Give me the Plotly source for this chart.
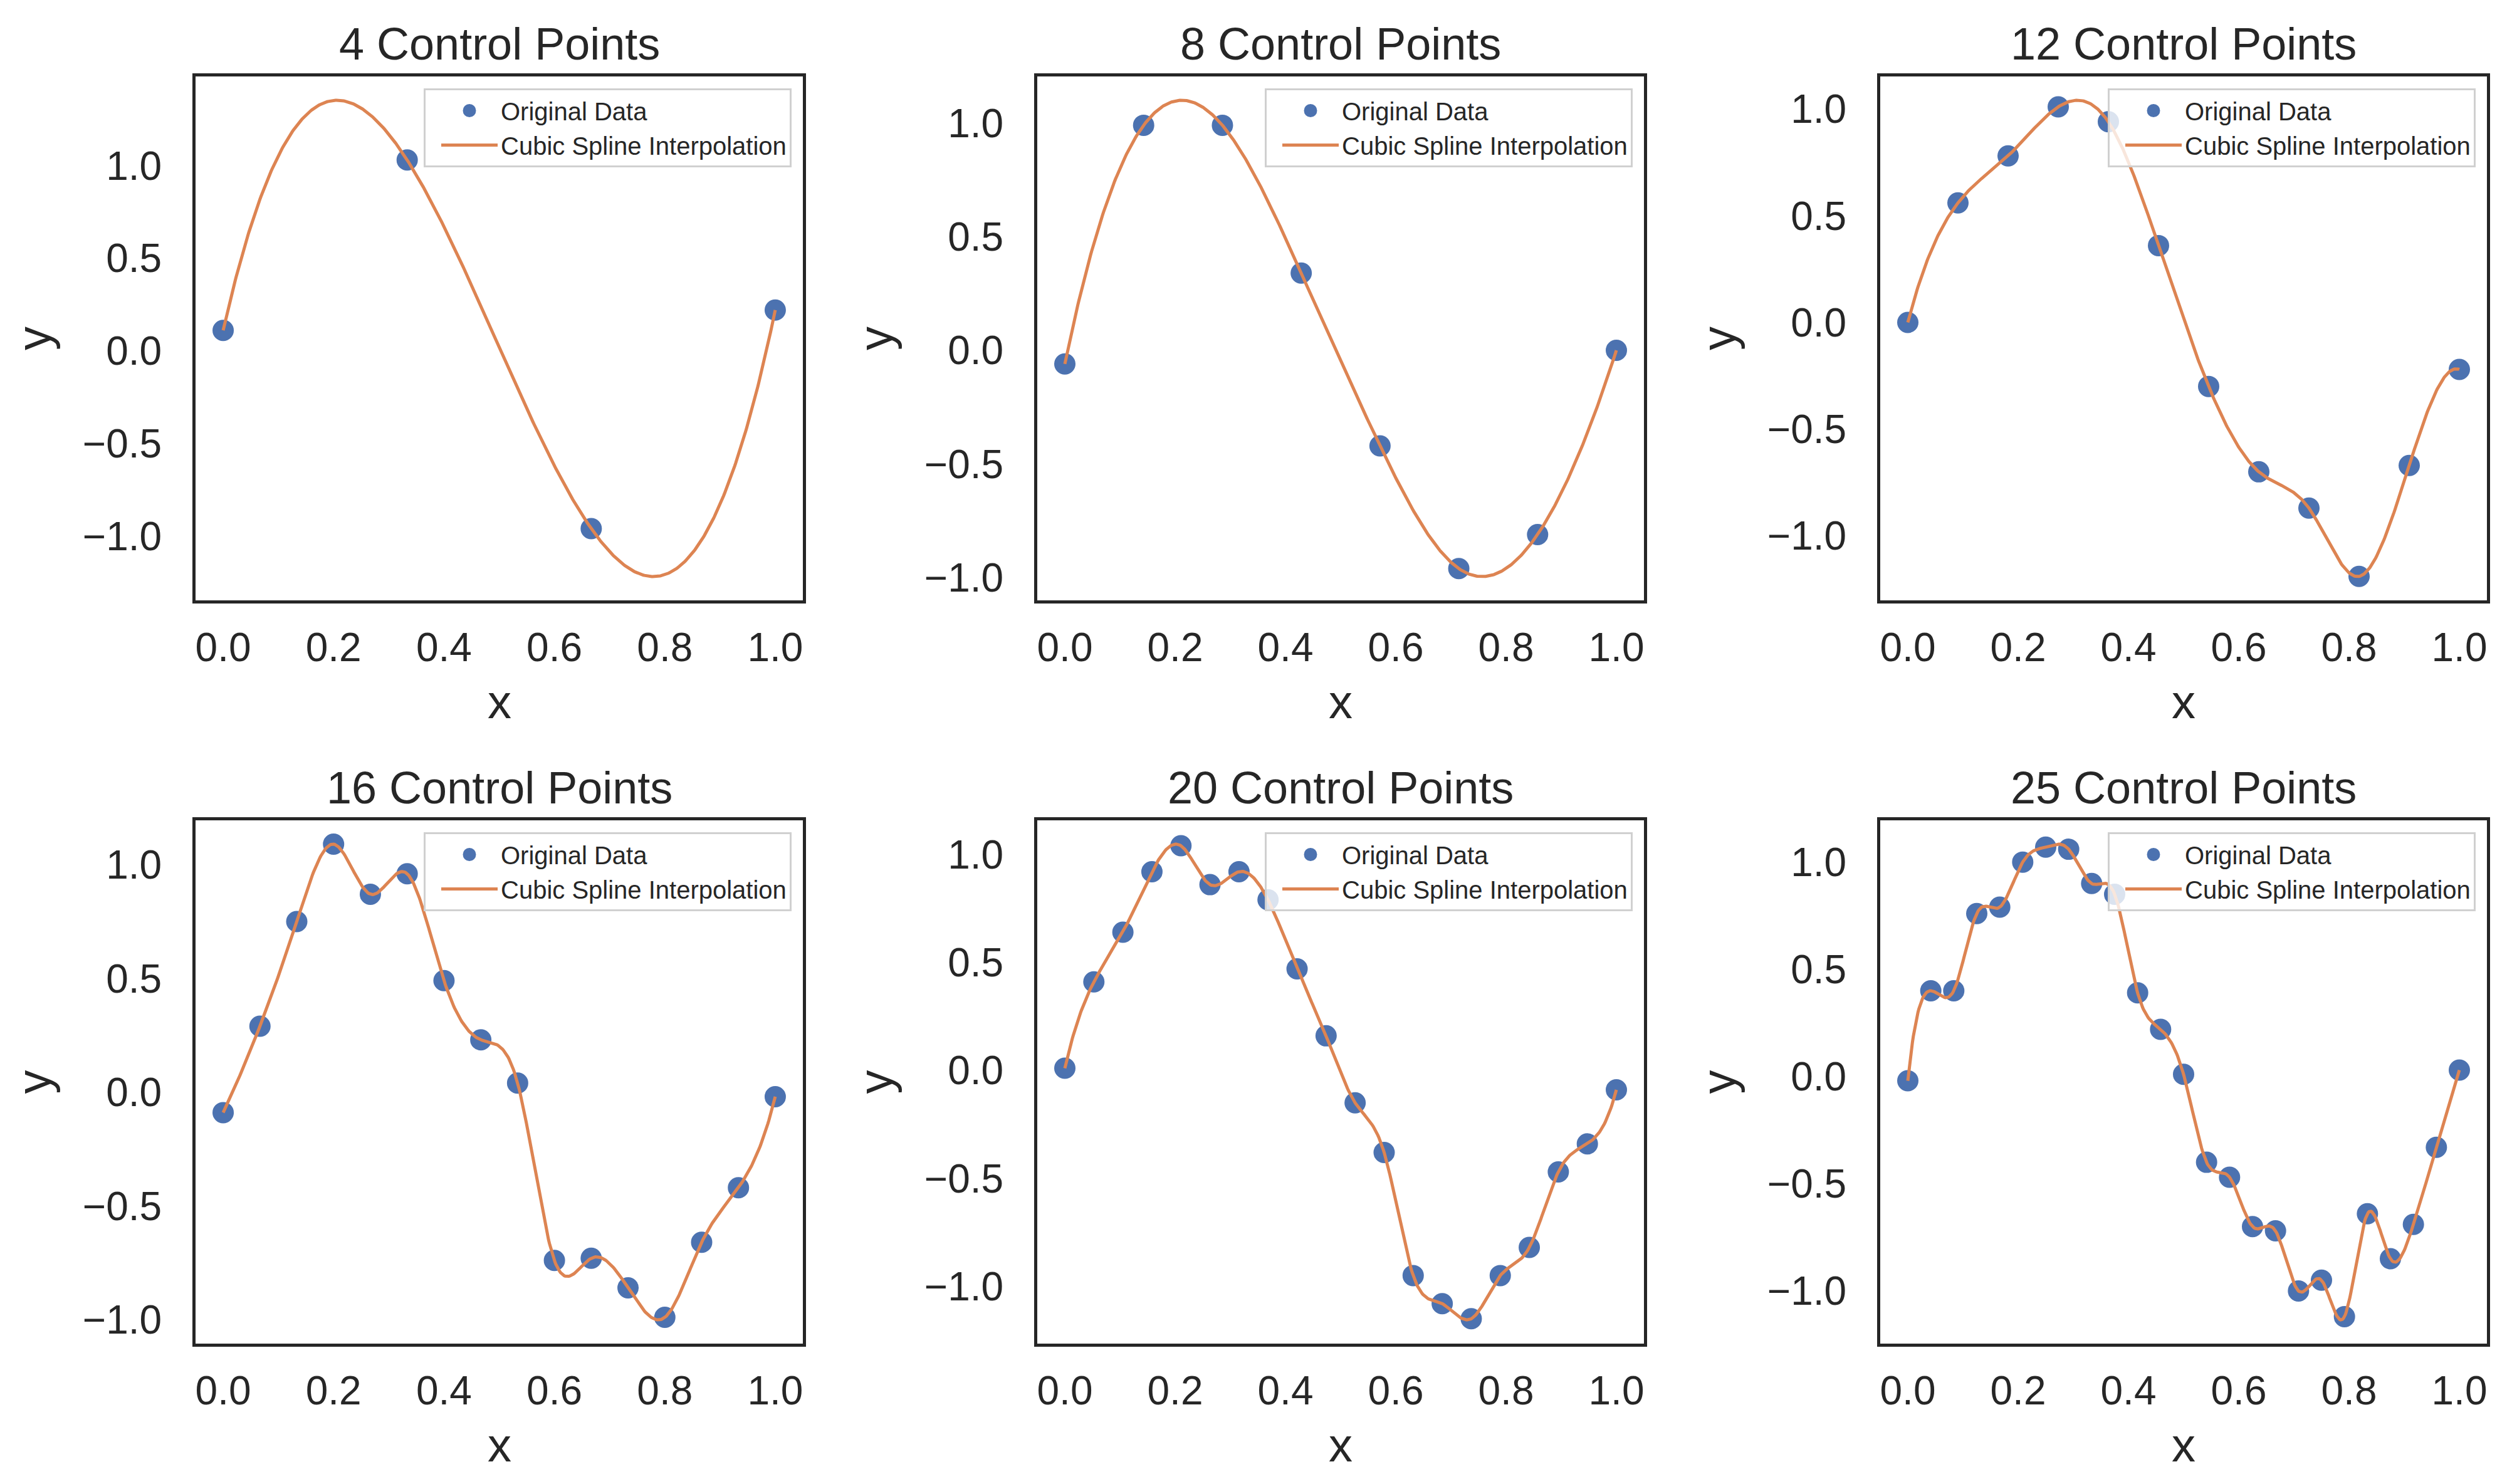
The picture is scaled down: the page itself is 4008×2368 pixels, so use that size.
import numpy as np
import plotly.graph_objects as go

# ---------------- data ----------------
titles = ["4 Control Points", "8 Control Points", "12 Control Points",
          "16 Control Points", "20 Control Points", "25 Control Points"]

y4 = [0.11, 1.03, -0.96, 0.22]
y8 = [-0.06, 0.99, 0.99, 0.34, -0.42, -0.96, -0.81, 0.00]
y12 = [0.00, 0.56, 0.78, 1.01, 0.94, 0.36, -0.30, -0.70, -0.87, -1.19, -0.67, -0.22]
y16 = [-0.09, 0.29, 0.75, 1.09, 0.87, 0.96, 0.49, 0.23, 0.04, -0.74, -0.73, -0.86,
       -0.99, -0.66, -0.42, -0.02]
y20 = [0.01, 0.41, 0.64, 0.92, 1.04, 0.86, 0.92, 0.79, 0.47, 0.16, -0.15, -0.38,
       -0.95, -1.08, -1.15, -0.95, -0.82, -0.47, -0.34, -0.09]
y25 = [-0.02, 0.40, 0.40, 0.76, 0.79, 1.00, 1.07, 1.06, 0.90, 0.85, 0.39, 0.22,
       0.01, -0.40, -0.47, -0.70, -0.72, -1.00, -0.95, -1.12, -0.64, -0.85,
       -0.69, -0.33, 0.03]

series = [y4, y8, y12, y16, y20, y25]
x_ticks = [0.0, 0.2, 0.4, 0.6, 0.8, 1.0]
y_ticks = [-1.0, -0.5, 0.0, 0.5, 1.0]

BLUE = "#4C72B0"
ORANGE = "#DD8452"
INK = "#262626"
FONT = "Liberation Sans, Arial, sans-serif"

W, H = 4008, 2368


def not_a_knot_spline(x, y, xs):
    x = np.asarray(x, float)
    y = np.asarray(y, float)
    n = len(x)
    h = np.diff(x)
    A = np.zeros((n, n))
    b = np.zeros(n)
    for i in range(1, n - 1):
        A[i, i - 1] = h[i - 1]
        A[i, i] = 2 * (h[i - 1] + h[i])
        A[i, i + 1] = h[i]
        b[i] = 6 * ((y[i + 1] - y[i]) / h[i] - (y[i] - y[i - 1]) / h[i - 1])
    A[0, 0] = h[1]
    A[0, 1] = -(h[0] + h[1])
    A[0, 2] = h[0]
    A[n - 1, n - 3] = h[n - 2]
    A[n - 1, n - 2] = -(h[n - 3] + h[n - 2])
    A[n - 1, n - 1] = h[n - 3]
    M = np.linalg.solve(A, b)
    idx = np.clip(np.searchsorted(x, xs) - 1, 0, n - 2)
    x0, x1 = x[idx], x[idx + 1]
    hh = x1 - x0
    return (M[idx] * (x1 - xs) ** 3 / (6 * hh) + M[idx + 1] * (xs - x0) ** 3 / (6 * hh)
            + (y[idx] / hh - M[idx] * hh / 6) * (x1 - xs)
            + (y[idx + 1] / hh - M[idx + 1] * hh / 6) * (xs - x0))


# axes boxes in pixels (left, right, top, bottom)
cols_px = [(304, 1273), (1647, 2615), (2992, 3960)]
rows_px = [(114, 950), (1301, 2136)]

fig = go.Figure()
layout = dict(
    width=W, height=H, margin=dict(l=0, r=0, t=0, b=0),
    plot_bgcolor="white", paper_bgcolor="white",
    font=dict(family=FONT, color=INK), showlegend=True,
)
annotations = []

for k, ys in enumerate(series):
    r, c = divmod(k, 3)
    L, R = cols_px[c]
    T, B = rows_px[r]
    n = len(ys)
    xs = np.linspace(0, 1, n)
    xf = np.linspace(0, 1, 600)
    yf = not_a_knot_spline(xs, ys, xf)
    ax = "" if k == 0 else str(k + 1)
    lg = "legend" if k == 0 else f"legend{k + 1}"

    fig.add_trace(go.Scatter(x=xs, y=ys, mode="markers", name="Original Data",
                             marker=dict(color=BLUE, size=29, line=dict(width=5, color=BLUE)),
                             xaxis="x" + ax, yaxis="y" + ax, legend=lg))
    fig.add_trace(go.Scatter(x=xf, y=yf, mode="lines", name="Cubic Spline Interpolation",
                             line=dict(color=ORANGE, width=5),
                             xaxis="x" + ax, yaxis="y" + ax, legend=lg))

    lo = min(np.min(yf), min(ys))
    hi = max(np.max(yf), max(ys))
    span = hi - lo
    yr = [lo - 0.05 * span, hi + 0.05 * span]

    common = dict(showline=True, mirror=True, linecolor=INK, linewidth=5,
                  ticks="", showgrid=False, zeroline=False,
                  tickfont=dict(size=64, color=INK, family=FONT),
                  tickformat=".1f")
    layout["xaxis" + ax] = dict(common, domain=[L / W, R / W], range=[-0.05, 1.05],
                                tickvals=x_ticks, anchor="y" + ax,
                                ticklabelstandoff=15)
    layout["yaxis" + ax] = dict(common, domain=[1 - B / H, 1 - T / H], range=yr,
                                tickvals=y_ticks, anchor="x" + ax,
                                ticklabelstandoff=36)
    layout[lg] = dict(x=(R - 18) / W, y=1 - (T + 19) / H, xanchor="right", yanchor="top",
                      xref="paper", yref="paper",
                      bgcolor="rgba(255,255,255,0.8)", bordercolor="#d0d0d0", borderwidth=3,
                      font=dict(size=40, color=INK, family=FONT), itemwidth=90,
                      indentation=20)

    cx = (L + R) / 2 / W
    annotations.append(dict(text=titles[k], x=cx, y=1 - (T - 52) / H, xref="paper", yref="paper",
                            xanchor="center", yanchor="middle", showarrow=False,
                            font=dict(size=72, color=INK, family=FONT)))
    annotations.append(dict(text="x", x=cx, y=1 - (B + 161) / H, xref="paper", yref="paper",
                            xanchor="center", yanchor="middle", showarrow=False,
                            font=dict(size=76, color=INK, family=FONT)))
    annotations.append(dict(text="y", x=(L - 259) / W, y=1 - (T + B) / 2 / H, xref="paper", yref="paper",
                            xanchor="center", yanchor="middle", showarrow=False, textangle=-90,
                            font=dict(size=76, color=INK, family=FONT)))

layout["annotations"] = annotations
fig.update_layout(**layout)
fig.write_html("out.html")
